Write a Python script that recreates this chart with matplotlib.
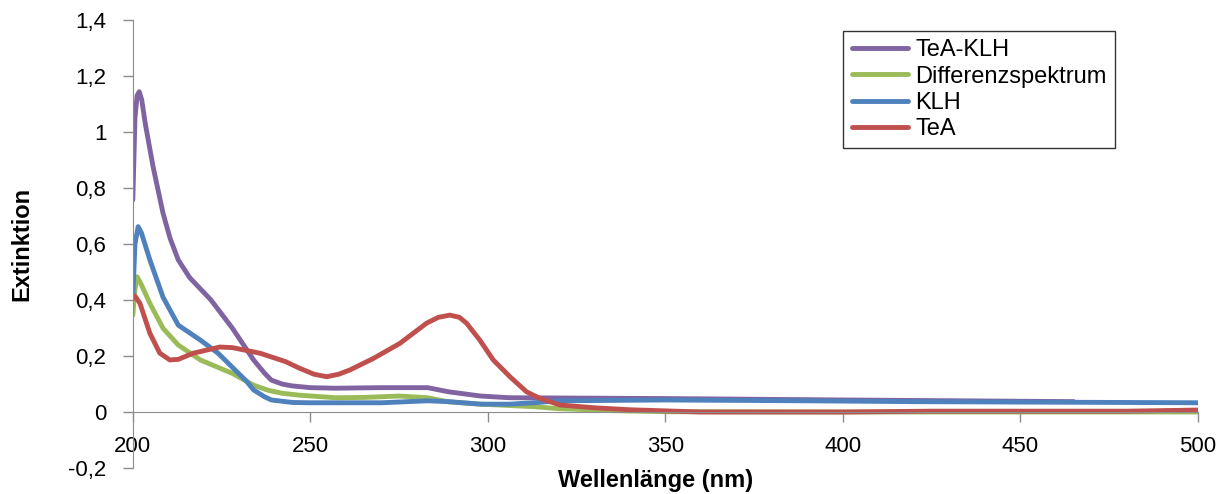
import numpy as np
import matplotlib
matplotlib.use("Agg")
import matplotlib.pyplot as plt

plt.rcParams['font.family'] = ['Liberation Sans', 'DejaVu Sans']

# Spectra (wavelength in nm, extinction)
wl_teaklh = [200, 200.6, 201.2, 201.8, 202.5, 203.5, 205.7, 208.5, 210.5, 212.8, 216, 222,
             228, 234, 237, 239, 242, 245, 250, 257, 270, 283, 289, 298, 306, 320, 350,
             400, 465]
ext_teaklh = [0.757, 1.05, 1.13, 1.144, 1.115, 1.03, 0.876, 0.71, 0.62, 0.543, 0.48, 0.40,
              0.30, 0.186, 0.14, 0.114, 0.10, 0.093, 0.087, 0.085, 0.087, 0.087, 0.072,
              0.057, 0.051, 0.05, 0.048, 0.043, 0.037]

wl_diff = [200, 200.5, 201.2, 202.2, 204.8, 208.5, 212.8, 219, 228, 234, 238, 242, 247,
           257, 265, 275, 283, 289, 298, 313, 320, 335, 350, 400, 500]
ext_diff = [0.346, 0.43, 0.483, 0.46, 0.388, 0.299, 0.239, 0.186, 0.138, 0.096, 0.078,
            0.067, 0.06, 0.051, 0.052, 0.057, 0.051, 0.036, 0.028, 0.019, 0.012, 0.005,
            0.001, 0.0, 0.0]

wl_klh = [200, 200.6, 201.5, 202.4, 204.8, 208.5, 212.8, 219, 224, 228, 232, 234, 237,
          239, 245, 250, 270, 283, 289, 298, 306, 313, 320, 350, 390, 420, 460, 500]
ext_klh = [0.41, 0.6, 0.662, 0.64, 0.543, 0.41, 0.31, 0.257, 0.21, 0.16, 0.11, 0.079,
           0.055, 0.043, 0.034, 0.033, 0.033, 0.04, 0.037, 0.028, 0.028, 0.033, 0.04,
           0.043, 0.04, 0.037, 0.035, 0.033]

wl_tea = [200, 200.6, 202, 204.8, 207.6, 210.4, 212.8, 217, 224.5, 228, 235.8, 243,
          247, 251, 254.6, 258, 261.1, 267.7, 275.2, 282.7, 286, 289.3, 292, 294, 297.7,
          301.5, 306.2, 310.9, 314.6, 320.3, 330, 340, 350, 360, 400, 425, 450, 480, 500]
ext_tea = [0.404, 0.414, 0.388, 0.281, 0.21, 0.186, 0.188, 0.21, 0.232, 0.23, 0.21, 0.18,
           0.156, 0.135, 0.126, 0.135, 0.15, 0.191, 0.245, 0.317, 0.338, 0.346, 0.338,
           0.317, 0.257, 0.186, 0.126, 0.072, 0.049, 0.025, 0.015, 0.008, 0.004, 0.0,
           0.0, 0.003, 0.003, 0.003, 0.007]

series = [("TeA-KLH", wl_teaklh, ext_teaklh, "#8064A2"),
          ("Differenzspektrum", wl_diff, ext_diff, "#9BBB59"),
          ("KLH", wl_klh, ext_klh, "#4F81BD"),
          ("TeA", wl_tea, ext_tea, "#C0504D")]

fig = plt.figure(figsize=(12.3, 4.94), dpi=100)
ax = fig.add_axes([0.108, 0.0526, 0.866, 0.907])

for name, x, y, c in series:
  ax.plot(x, y, color=c, lw=3.5, label=name, solid_capstyle='round',
          solid_joinstyle='round')

ax.set_xlim(200, 500)
ax.set_ylim(-0.2, 1.4)
ax.set_xticks(np.arange(200, 501, 50))
ax.set_yticks(np.arange(-0.2, 1.41, 0.2))
ax.set_yticklabels(["-0,2", "0", "0,2", "0,4", "0,6", "0,8", "1", "1,2", "1,4"])

# x axis crosses at zero, like the spreadsheet chart
ax.spines['bottom'].set_position(('data', 0))
ax.spines['top'].set_visible(False)
ax.spines['right'].set_visible(False)
for s in ['bottom', 'left']:
  ax.spines[s].set_color('#8c8c8c')
ax.tick_params(axis='both', colors='#8c8c8c', labelcolor='black', labelsize=16,
               length=7, width=1)
ax.tick_params(axis='x', pad=10)
ax.tick_params(axis='y', pad=12)

ax.set_ylabel("Extinktion", fontsize=17, fontweight='bold')
ax.yaxis.set_label_coords(-0.093, 0.5)
fig.text(0.533, 0.005, "Wellenlänge (nm)", fontsize=17, fontweight='bold',
         ha='center', va='bottom')

leg = ax.legend(loc='upper left', bbox_to_anchor=(0.667, 0.975), fontsize=17,
                frameon=True, fancybox=False, handlelength=2.4, borderpad=0.35,
                labelspacing=0.18, handletextpad=0.3, borderaxespad=0)
leg.get_frame().set_edgecolor('black')
leg.get_frame().set_linewidth(1.0)

fig.savefig("out.png", dpi=100)
